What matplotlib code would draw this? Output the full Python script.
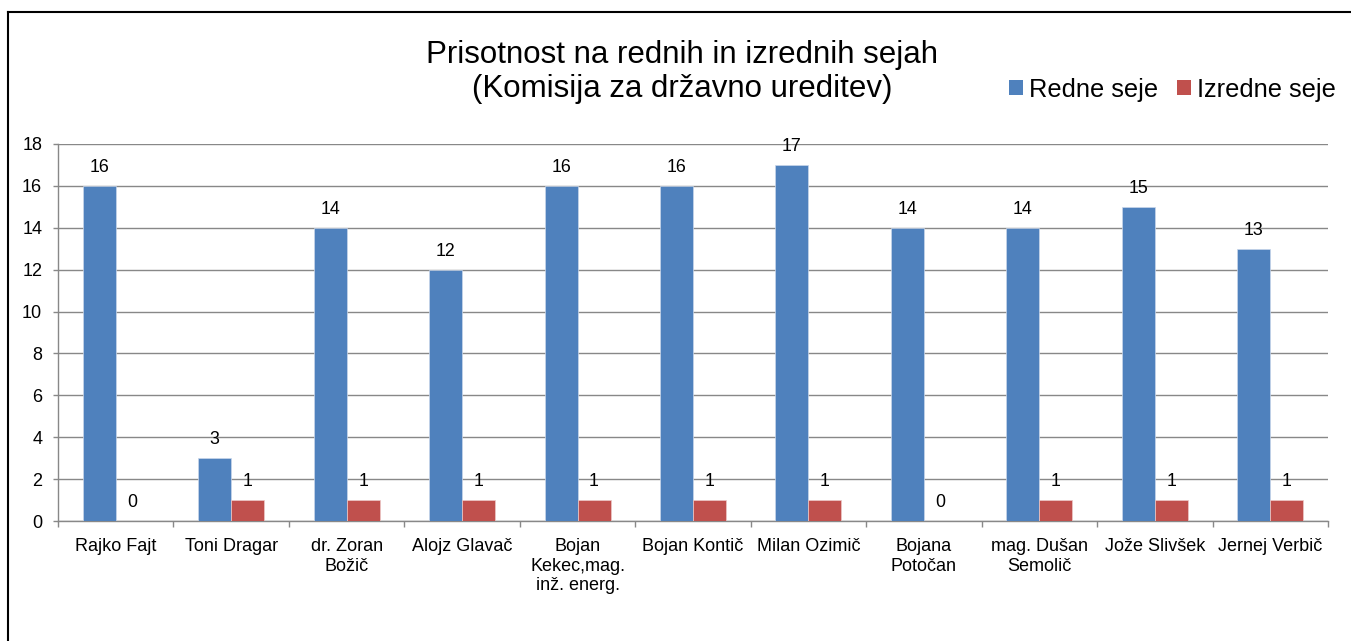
import matplotlib
matplotlib.use("Agg")
import matplotlib.pyplot as plt
import numpy as np
from matplotlib.patches import Patch
from matplotlib.lines import Line2D

plt.rcParams['font.family'] = ['Liberation Sans', 'DejaVu Sans']

categories = ["Rajko Fajt", "Toni Dragar", "dr. Zoran\nBožič", "Alojz Glavač",
              "Bojan\nKekec,mag.\ninž. energ.", "Bojan Kontič", "Milan Ozimič",
              "Bojana\nPotočan", "mag. Dušan\nSemolič", "Jože Slivšek", "Jernej Verbič"]
redne = [16, 3, 14, 12, 16, 16, 17, 14, 14, 15, 13]
izredne = [0, 1, 1, 1, 1, 1, 1, 0, 1, 1, 1]
series_names = ["Redne seje", "Izredne seje"]
yticks = [0, 2, 4, 6, 8, 10, 12, 14, 16, 18]

W, H = 1351, 641
fig = plt.figure(figsize=(W / 100, H / 100), dpi=100)
ax = fig.add_axes([58 / W, 1 - 521 / H, (1328 - 58) / W, (521 - 144) / H])

blue = "#4F81BD"
red = "#C0504D"
gray = "#888888"

x = np.arange(len(categories))
bw = 1 / 3.5
b1 = ax.bar(x - bw / 2, redne, bw, color=blue, edgecolor="#c9d6ea", linewidth=0.5, zorder=3)
b2 = ax.bar(x + bw / 2, izredne, bw, color=red, edgecolor="#ecc9c8", linewidth=0.5, zorder=3)

for bars, vals in ((b1, redne), (b2, izredne)):
    for rect, v in zip(bars, vals):
        ax.annotate(str(v), (rect.get_x() + rect.get_width() / 2, v),
                    xytext=(0, 10.2), textcoords="offset points",
                    ha="center", va="baseline", fontsize=12.8, color="black", zorder=4)

ax.set_xlim(-0.5, len(categories) - 0.5)
ax.set_ylim(0, 18)
ax.set_yticks(yticks)
ax.set_yticklabels([str(t) for t in yticks])
ax.grid(axis="y", color=gray, linewidth=1.0, zorder=0)
ax.set_axisbelow(True)

ax.set_xticks(np.arange(len(categories) + 1) - 0.5)
ax.set_xticklabels([])
ax.set_xticks(x, minor=True)
ax.set_xticklabels(categories, minor=True, fontsize=13, linespacing=1.22)
ax.tick_params(axis="x", which="minor", length=0, pad=12)
ax.tick_params(axis="x", which="major", length=4, width=1.0, color=gray, direction="out")
ax.tick_params(axis="y", length=3.4, width=1.0, color=gray, pad=8, labelsize=13)

for s in ("top", "right"):
    ax.spines[s].set_visible(False)
for s in ("left", "bottom"):
    ax.spines[s].set_color(gray)
    ax.spines[s].set_linewidth(1.0)

# title
fig.text(682.5 / W, 1 - 63.3 / H, "Prisotnost na rednih in izrednih sejah",
         ha="center", va="baseline", fontsize=22.5)
fig.text(682.5 / W, 1 - 97 / H, "(Komisija za državno ureditev)",
         ha="center", va="baseline", fontsize=22.5)

# legend
handles = [Patch(facecolor=blue), Patch(facecolor=red)]
fs = 18.3
leg = fig.legend(handles, series_names, loc="center left",
                 bbox_to_anchor=(1009 / W, 1 - 89.5 / H), ncol=2, frameon=False,
                 fontsize=fs, borderpad=0, borderaxespad=0,
                 handlelength=13.7 / (fs * 100 / 72), handleheight=13.7 / (fs * 100 / 72),
                 handletextpad=6 / (fs * 100 / 72), columnspacing=19 / (fs * 100 / 72))

# chart border (left and top edges visible)
xl = 8.3 / W
yt = 1 - 12.3 / H
fig.add_artist(Line2D([xl, xl], [-0.05, yt], transform=fig.transFigure, color="black",
                      linewidth=1.5, solid_capstyle="projecting"))
fig.add_artist(Line2D([xl, 1.05], [yt, yt], transform=fig.transFigure, color="black",
                      linewidth=1.5, solid_capstyle="projecting"))

fig.savefig("out.png", dpi=100)
